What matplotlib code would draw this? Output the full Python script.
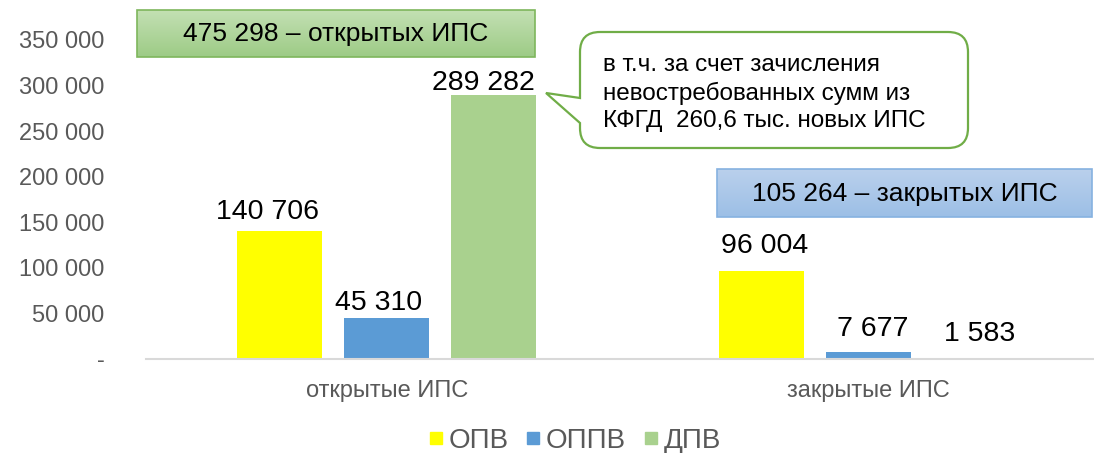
import matplotlib.pyplot as plt
import numpy as np
from matplotlib.lines import Line2D
from matplotlib.path import Path
from matplotlib.patches import PathPatch, Rectangle

plt.rcParams['font.family'] = ['Liberation Sans', 'DejaVu Sans']

# данные
categories = ['открытые ИПС', 'закрытые ИПС']
series = ['ОПВ', 'ОППВ', 'ДПВ']
opv = [140706, 96004]
oppv = [45310, 7677]
dpv = [289282, 1583]
colors = ['#FFFF00', '#5B9BD5', '#A9D18E']
yticks = [0, 50000, 100000, 150000, 200000, 250000, 300000, 350000]

box_open = '475 298 – открытых ИПС'
box_closed = '105 264 – закрытых ИПС'
note = 'в т.ч. за счет зачисления\nневостребованных сумм из\nКФГД  260,6 тыс. новых ИПС'

# подписи над столбцами в исходнике стоят не одинаково: сдвиг по x и y (пт)
label_shift = [[-9, 2], [-6, 3], [-7.5, 3.5]]
label_lift = [[8.6, 13], [5.8, 11.5], [3.6, 12.2]]

W, H = 1094, 453
fig = plt.figure(figsize=(W / 100, H / 100), dpi=100)
ax = fig.add_axes([146 / W, (H - 359) / H, 963 / W, 355.5 / H])

x = np.arange(len(categories))
step, width = 0.222, 0.1765
for i, (vals, c) in enumerate(zip([opv, oppv, dpv], colors)):
    pos = x + (i - 1) * step
    ax.bar(pos, vals, width=width, color=c, zorder=2)
    for p, v, dx, dy in zip(pos, vals, label_shift[i], label_lift[i]):
        ax.annotate(f'{v:,}'.replace(',', ' '), (p, v), xytext=(dx, dy), textcoords='offset points',
                    ha='center', va='baseline', fontsize=20.5, color='black')

ax.set_xlim(-0.5, 1.5)
ax.set_ylim(0, 390000)
ax.set_yticks(yticks)
ax.set_yticklabels(['-' if t == 0 else f'{t:,}'.replace(',', ' ') for t in yticks])
ax.set_xticks(x)
ax.set_xticklabels(categories)
ax.tick_params(axis='y', length=0, pad=30, labelsize=17, labelcolor='#595959')
ax.tick_params(axis='x', length=0, pad=15, labelsize=17, labelcolor='#595959')
for s in ['top', 'right', 'left']:
    ax.spines[s].set_visible(False)
ax.spines['bottom'].set_color('#D9D9D9')
ax.spines['bottom'].set_linewidth(1.5)

# легенда
handles = [Line2D([], [], marker='s', linestyle='none', markersize=8, color=c) for c in colors]
fig.legend(handles, series, loc='center', bbox_to_anchor=(572 / W, 1 - 441 / H), ncol=3,
           frameon=False, fontsize=20, handletextpad=0.0, columnspacing=0.45,
           labelcolor='#595959', handlelength=0.9)

# надписи поверх графика
ov = fig.add_axes([0, 0, 1, 1], zorder=5)
ov.set_xlim(0, W)
ov.set_ylim(H, 0)
ov.axis('off')


def grad_box(x0, x1, y0, y1, top, bottom, edge, text):
    t = np.linspace(0, 1, 64)[:, None]
    c0 = np.array(plt.matplotlib.colors.to_rgb(top))
    c1 = np.array(plt.matplotlib.colors.to_rgb(bottom))
    img = (c0 * (1 - t) + c1 * t)[:, None, :]
    ov.imshow(img, extent=(x0, x1, y1, y0), origin='upper', aspect='auto', zorder=1)
    ov.add_patch(Rectangle((x0, y0), x1 - x0, y1 - y0, fill=False, edgecolor=edge, lw=1.2, zorder=2))
    ov.text((x0 + x1) / 2, (y0 + y1) / 2 + 1, text, ha='center', va='center', fontsize=19, zorder=3)


grad_box(137, 535, 10, 57, '#C3E0B3', '#9DCB86', '#7EB65C', box_open)
grad_box(717, 1092, 169, 217, '#BAD0EC', '#9CBFE6', '#86B2E0', box_closed)
ov.set_xlim(0, W)
ov.set_ylim(H, 0)

# выноска
x0, x1, y0, y1, r = 580, 968, 32, 148, 20
verts = [(x0 + r, y0), (x1 - r, y0), (x1, y0), (x1, y0 + r), (x1, y1 - r), (x1, y1), (x1 - r, y1),
         (x0 + r, y1), (x0, y1), (x0, y1 - r), (x0, 123), (546, 93), (x0, 98), (x0, y0 + r), (x0, y0),
         (x0 + r, y0)]
codes = [Path.MOVETO, Path.LINETO, Path.CURVE3, Path.CURVE3, Path.LINETO, Path.CURVE3, Path.CURVE3,
         Path.LINETO, Path.CURVE3, Path.CURVE3, Path.LINETO, Path.LINETO, Path.LINETO, Path.LINETO,
         Path.CURVE3, Path.CURVE3]
ov.add_patch(PathPatch(Path(verts, codes), facecolor='white', edgecolor='#70AD47', lw=1.6, zorder=2))
ov.text(603, 93, note, ha='left', va='center', fontsize=17.5, linespacing=1.32, zorder=3)

fig.savefig('out.png', dpi=100)
